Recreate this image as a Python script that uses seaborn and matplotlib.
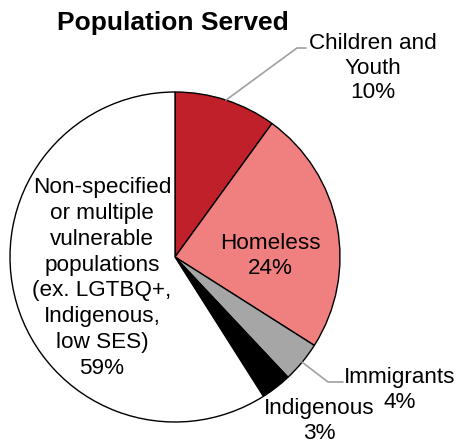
import numpy as np
import matplotlib
matplotlib.use("Agg")
import matplotlib.pyplot as plt
import seaborn as sns

categories = ["Children and\nYouth", "Homeless", "Immigrants", "Indigenous",
              "Non-specified\nor multiple\nvulnerable\npopulations\n(ex. LGTBQ+,\nIndigenous,\nlow SES)"]
values = [10, 24, 4, 3, 59]
colors = ["#C0202A", "#F08080", "#A6A6A6", "#000000", "#FFFFFF"]
title = "Population Served"

sns.set_theme(style="white")
plt.rcParams["font.family"] = ["Liberation Sans", "DejaVu Sans"]

W, H = 457, 445
fig = plt.figure(figsize=(W / 100, H / 100), dpi=100)
cx, cy, r = 175, 257, 165  # pixel geometry of the pie
ax = fig.add_axes([(cx - r) / W, (H - cy - r) / H, 2 * r / W, 2 * r / H])
wedges, _ = ax.pie(values, colors=colors, startangle=90, counterclock=False,
                   wedgeprops=dict(edgecolor="black", linewidth=1.0))
ax.set_xlim(-1, 1)
ax.set_ylim(-1, 1)
ax.set_aspect("auto")
ax.axis("off")


def px(x, y):
    return (x - cx) / r, (cy - y) / r


def edge(w, rr=1.0):
    a = np.deg2rad((w.theta1 + w.theta2) / 2)
    return rr * np.cos(a), rr * np.sin(a)


fs = 16.2
ls = 1.3
pct = [f"{v}%" for v in values]
line_col = "#A0A0A0"

# Children and Youth
ex, ey = edge(wedges[0])
e1 = px(297, 48)
e2 = px(306, 48)
ax.plot([ex, e1[0], e2[0]], [ey, e1[1], e2[1]], color=line_col, lw=1.2, clip_on=False)
ax.text(*px(373, 68), categories[0] + "\n" + pct[0], ha="center", va="center",
        fontsize=fs, color="black", linespacing=1.22)

# Homeless
ax.text(*px(270, 256), categories[1] + "\n" + pct[1], ha="center", va="center",
        fontsize=fs, color="black", linespacing=ls)

# Immigrants
ex, ey = edge(wedges[2])
e1 = px(328, 382)
e2 = px(343, 382)
ax.plot([ex, e1[0], e2[0]], [ey, e1[1], e2[1]], color=line_col, lw=1.2, clip_on=False)
ax.text(*px(400, 390), categories[2] + "\n" + pct[2], ha="center", va="center",
        fontsize=fs, color="black", linespacing=ls)

# Indigenous
ax.text(*px(319, 421), categories[3] + "\n" + pct[3], ha="center", va="center",
        fontsize=fs, color="black", linespacing=ls)

# Non-specified
ax.text(*px(102, 278), categories[4] + "\n" + pct[4], ha="center", va="center",
        fontsize=fs, color="black", linespacing=ls)

fig.text(173 / W, 1 - 23 / H, title, ha="center", va="center",
         fontsize=19, fontweight="bold", color="black")

fig.savefig("out.png", dpi=100, facecolor="white")
